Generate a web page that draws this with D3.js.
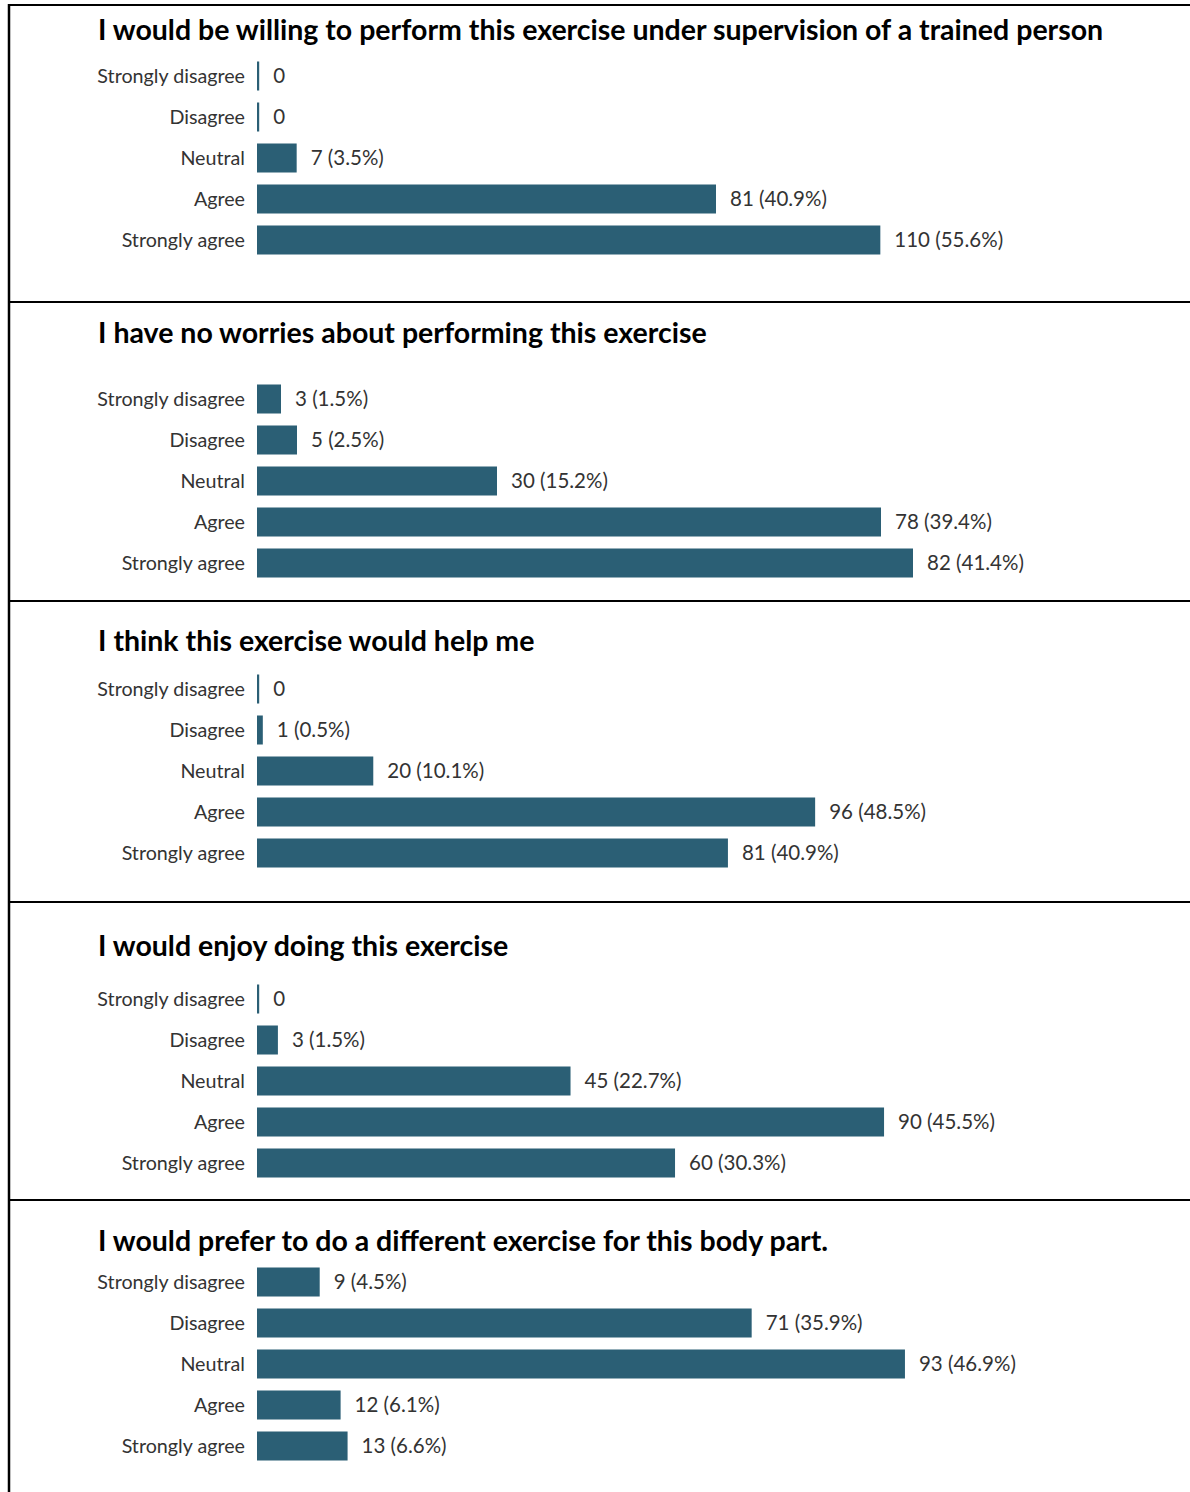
<!DOCTYPE html>
<html>
<head>
<meta charset="utf-8">
<script src="https://cdn.jsdelivr.net/npm/d3@7/dist/d3.min.js"></script>
<style>
  html, body { margin: 0; padding: 0; background: #fff; }
  svg { display: block; }
</style>
</head>
<body>
<div id="chart"></div>
<script>
// Survey responses (n = 198) for five statements about an exercise
const categories = ["Strongly disagree", "Disagree", "Neutral", "Agree", "Strongly agree"];

const questions = [
  "I would be willing to perform this exercise under supervision of a trained person",
  "I have no worries about performing this exercise",
  "I think this exercise would help me",
  "I would enjoy doing this exercise",
  "I would prefer to do a different exercise for this body part."
];

const countsQ1 = [0, 0, 7, 81, 110];
const countsQ2 = [3, 5, 30, 78, 82];
const countsQ3 = [0, 1, 20, 96, 81];
const countsQ4 = [0, 3, 45, 90, 60];
const countsQ5 = [9, 71, 93, 12, 13];

const pctQ1 = [0, 0, 3.5, 40.9, 55.6];
const pctQ2 = [1.5, 2.5, 15.2, 39.4, 41.4];
const pctQ3 = [0, 0.5, 10.1, 48.5, 40.9];
const pctQ4 = [0, 1.5, 22.7, 45.5, 30.3];
const pctQ5 = [4.5, 35.9, 46.9, 6.1, 6.6];

// Upper end of each panel's horizontal scale
const axisMax = [150, 106.25, 146.2, 122, 122];

const counts = [countsQ1, countsQ2, countsQ3, countsQ4, countsQ5];
const pcts = [pctQ1, pctQ2, pctQ3, pctQ4, pctQ5];

// Layout
const W = 1190, H = 1492;
const panelTops = [5, 302, 601, 902, 1200];
const titleY = [30, 333, 641, 946, 1241];
const firstRowY = [76, 399, 689, 999, 1282];
const barX0 = 257, barSpan = 850, rowStep = 41, barH = 29;
const barColor = "#2b5f75";
const textColor = "#333333";
const titleSize = 28.5, catSize = 19.7, valSize = 20.5;

const svg = d3.select("#chart").append("svg")
  .attr("width", W).attr("height", H);

// Frame: left edge plus panel separators
svg.append("line")
  .attr("x1", 9).attr("x2", 9).attr("y1", panelTops[0] - 1).attr("y2", H)
  .attr("stroke", "#000").attr("stroke-width", 2.5);
svg.selectAll("line.sep").data(panelTops).join("line")
  .attr("class", "sep")
  .attr("x1", 8).attr("x2", W)
  .attr("y1", d => d).attr("y2", d => d)
  .attr("stroke", "#000").attr("stroke-width", 2.2);

questions.forEach((q, i) => {
  const g = svg.append("g");
  const x = d3.scaleLinear().domain([0, axisMax[i]]).range([barX0, barX0 + barSpan]);
  const y = d3.scaleBand().domain(categories)
    .range([firstRowY[i] - rowStep / 2, firstRowY[i] - rowStep / 2 + rowStep * categories.length])
    .paddingInner((rowStep - barH) / rowStep)
    .paddingOuter((rowStep - barH) / rowStep / 2);

  g.append("text")
    .attr("x", 98).attr("y", titleY[i])
    .attr("dy", "0.35em")
    .attr("font-family", "Lato, 'Open Sans', sans-serif")
    .attr("font-weight", 700)
    .attr("font-size", titleSize)
    .attr("fill", "#000")
    .attr("class", "title")
    .text(q);

  const rows = categories.map((c, j) => ({ cat: c, v: counts[i][j], p: pcts[i][j] }));

  g.selectAll("text.cat").data(rows).join("text")
    .attr("class", "cat")
    .attr("x", 245)
    .attr("y", d => y(d.cat) + y.bandwidth() / 2)
    .attr("dy", "0.35em")
    .attr("text-anchor", "end")
    .attr("font-family", "Lato, sans-serif")
    .attr("font-size", catSize)
    .attr("fill", textColor)
    .text(d => d.cat);

  // zero counts still show a hairline marker at the baseline
  const barW = d => Math.max(x(d.v) - x(0), 2.2);

  g.selectAll("rect").data(rows).join("rect")
    .attr("x", x(0))
    .attr("y", d => y(d.cat))
    .attr("width", barW)
    .attr("height", y.bandwidth())
    .attr("fill", barColor);

  g.selectAll("text.val").data(rows).join("text")
    .attr("class", "val")
    .attr("x", d => x(0) + barW(d) + 14)
    .attr("y", d => y(d.cat) + y.bandwidth() / 2)
    .attr("dy", "0.35em")
    .attr("font-family", "Lato, sans-serif")
    .attr("font-size", valSize)
    .attr("fill", textColor)
    .text(d => d.v === 0 ? "0" : `${d.v} (${d.p.toFixed(1)}%)`);
});
</script>
</body>
</html>
